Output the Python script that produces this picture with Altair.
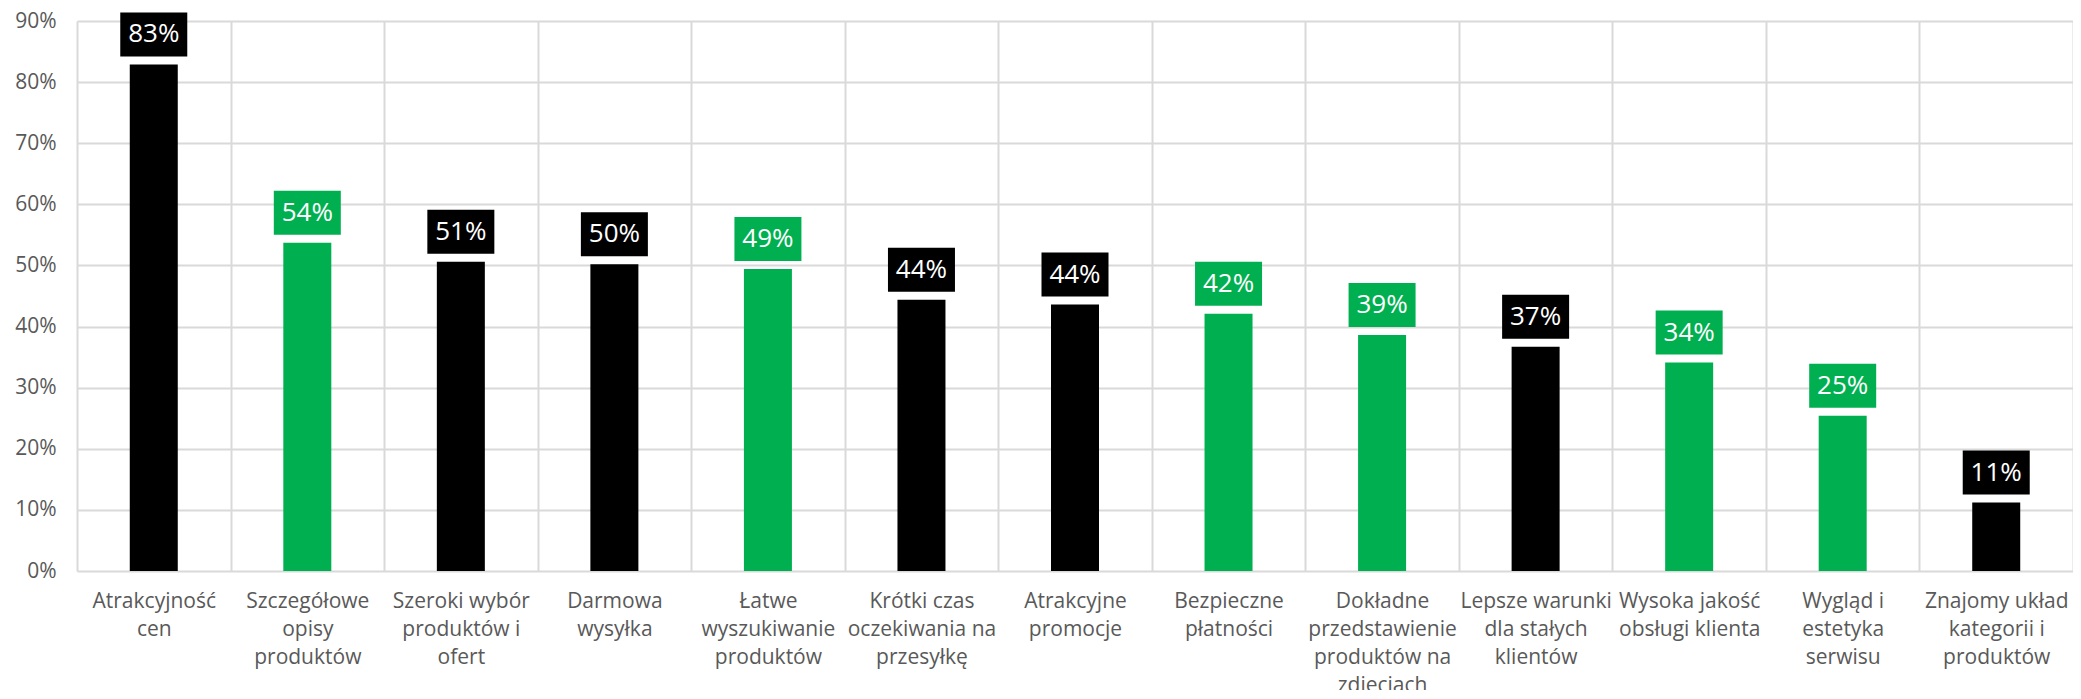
import altair as alt
import pandas as pd

categories = [
    "Atrakcyjność\ncen",
    "Szczegółowe\nopisy\nproduktów",
    "Szeroki wybór\nproduktów i\nofert",
    "Darmowa\nwysyłka",
    "Łatwe\nwyszukiwanie\nproduktów",
    "Krótki czas\noczekiwania na\nprzesyłkę",
    "Atrakcyjne\npromocje",
    "Bezpieczne\npłatności",
    "Dokładne\nprzedstawienie\nproduktów na\nzdjęciach",
    "Lepsze warunki\ndla stałych\nklientów",
    "Wysoka jakość\nobsługi klienta",
    "Wygląd i\nestetyka\nserwisu",
    "Znajomy układ\nkategorii i\nproduktów",
]
values = [0.829, 0.537, 0.506, 0.502, 0.494, 0.444, 0.436, 0.421, 0.386, 0.367, 0.341, 0.254, 0.112]
groups = ["czarny", "zielony", "czarny", "czarny", "zielony", "czarny", "czarny",
          "zielony", "zielony", "czarny", "zielony", "zielony", "czarny"]
y_ticks = [0, 0.1, 0.2, 0.3, 0.4, 0.5, 0.6, 0.7, 0.8, 0.9]

df = pd.DataFrame({"kat": categories, "val": values, "grp": groups})

FONT = "Open Sans"
GRID = "#D9D9D9"
LAB = "#595959"

x = alt.X(
    "kat:N", sort=None, title=None,
    scale=alt.Scale(paddingInner=0, paddingOuter=0),
    axis=alt.Axis(
        tickBand="extent", grid=True, gridColor=GRID, gridWidth=2,
        domain=False, ticks=False, labelAngle=0, labelPadding=19,
        labelFontSize=21, labelLineHeight=28, labelColor=LAB, labelFont=FONT,
        labelExpr="split(datum.label, '\\n')", labelLimit=300,
        labelOverlap=False, labelBaseline="top", labelBound=False,
    ),
)
y = alt.Y(
    "val:Q", title=None,
    scale=alt.Scale(domain=[0, 0.9], nice=False),
    axis=alt.Axis(
        values=y_ticks, format=".0%", grid=True, gridColor=GRID, gridWidth=2,
        domain=False, ticks=False, labelPadding=21, labelFontSize=21,
        labelColor=LAB, labelFont=FONT,
    ),
)
color = alt.Color(
    "grp:N",
    scale=alt.Scale(domain=["czarny", "zielony"], range=["#000000", "#00B050"]),
    legend=None,
)

base = alt.Chart(df)
bars = base.mark_bar(width=48).encode(x=x, y=y, color=color)
boxes = base.mark_bar(width=67, yOffset=-8, y2Offset=-52).encode(
    x=x, y=y, y2=alt.Y2("val:Q"), color=color
)
texts = base.mark_text(dy=-30, fontSize=26, color="white", font=FONT, baseline="middle").encode(
    x=x, y=y, text=alt.Text("val:Q", format=".0%")
)

chart = (
    alt.layer(bars, boxes, texts)
    .properties(
        width=1996, height=550,
        autosize=alt.AutoSizeParams(type="none"),
        padding={"left": 69, "top": 13, "right": 0, "bottom": 119},
    )
    .configure_view(stroke=None)
)

chart.save("out.html", embed_options={"renderer": "svg", "actions": False})
